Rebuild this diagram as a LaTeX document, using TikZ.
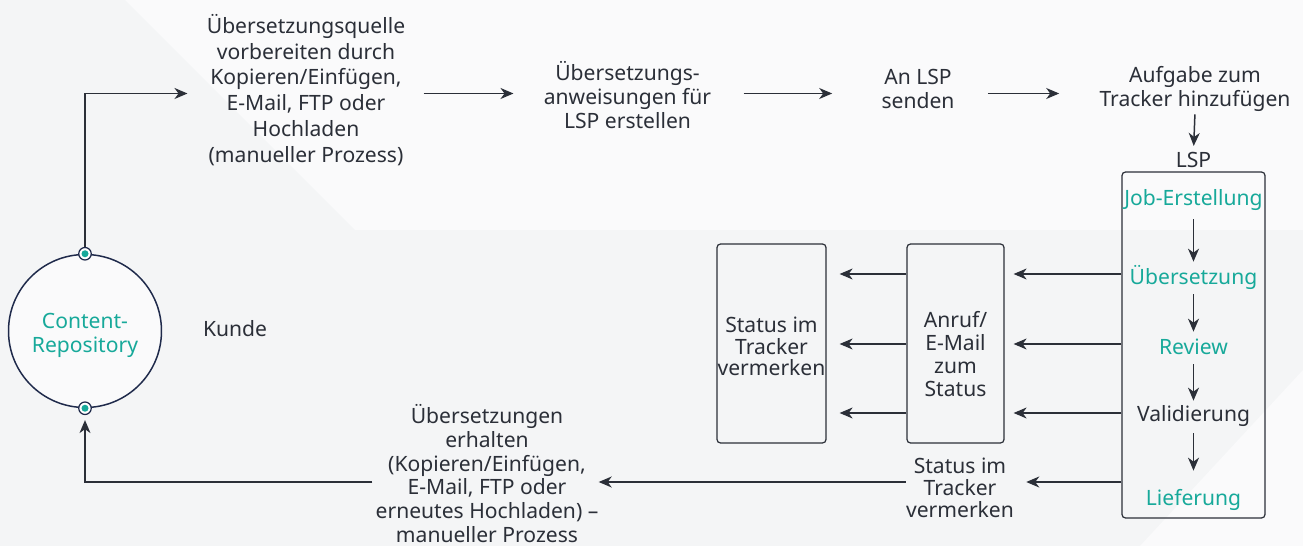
\documentclass[tikz,border=0pt]{standalone}
\usepackage{fontspec}
\setmainfont{Noto Sans}
\usetikzlibrary{arrows.meta, positioning, calc}
\definecolor{inkdark}{HTML}{2B2F38}
\definecolor{repoteal}{HTML}{17A99A}
\definecolor{reponavy}{HTML}{1F2A4B}
\definecolor{bgshade}{HTML}{F4F5F6}
\definecolor{bglight}{HTML}{FAFAFB}

\newcommand{\txt}[1]{\fontsize{12}{#1}\selectfont}

\begin{document}
\begin{tikzpicture}[
    every node/.style={font=\txt{13.6}, text=inkdark, align=center, inner sep=0pt},
    flow/.style={draw=inkdark, line width=0.85pt, -{Stealth[length=2.6mm, width=2.2mm, inset=0.8mm]}},
    statusbox/.style={draw=inkdark, line width=0.7pt, rounded corners=2pt, minimum height=3.98cm},
    lspitem/.style={minimum height=0.6cm},
    pin/.style={circle, draw=reponavy, fill=white, line width=0.7pt, minimum size=0.25cm}
]

% Background
\fill[bgshade] (0,0) rectangle (26.06,-10.92);
\fill[bglight] (2.5,0) -- (26.06,0) -- (26.06,-4.6) -- (7.1,-4.6) -- cycle;
\fill[bglight] (26.06,-7.4) -- (26.06,-10.92) -- (22.8,-10.92) -- cycle;
\useasboundingbox (0,0) rectangle (26.06,-10.92);

% Customer side
\node[circle, draw=reponavy, fill=bglight, line width=0.85pt, minimum size=3.06cm] (repo) at (1.70,-6.62) {};
\node[text=repoteal] (repotext) at (1.70,-6.70) {Content-\\Repository};
\node[pin] (toppin) at (repo.north) {};
\node[pin] (botpin) at (repo.south) {};
\fill[repoteal] (toppin) circle (0.07);
\fill[repoteal] (botpin) circle (0.07);
\node (kunde) at (4.70,-6.58) {Kunde};

% Top row
\coordinate (toprow) at (0,-1.87);
\node[font=\txt{14.7}] (src) at (6.12,-1.80) {Übersetzungsquelle\\vorbereiten durch\\Kopieren/Einfügen,\\E-Mail, FTP oder\\Hochladen\\(manueller Prozess)};
\node (instr) at (12.55,-1.90) {Übersetzungs-\\anweisungen für\\LSP erstellen};
\node (send) at (18.36,-1.78) {An LSP\\senden};
\node (tracker) at (23.90,-1.78) {Aufgabe zum\\Tracker hinzufügen};
\node (lsplabel) at (23.87,-3.20) {LSP};

% LSP steps
\node[draw=inkdark, line width=0.7pt, rounded corners=2pt, minimum width=2.86cm, minimum height=6.92cm] (lspbox) at (23.87,-6.90) {};
\node[lspitem, text=repoteal] (job) at (23.87,-4.00) {Job-Erstellung};
\node[lspitem, text=repoteal] (uebers) at (23.87,-5.54) {Übersetzung};
\node[lspitem, text=repoteal] (review) at (23.87,-6.94) {Review};
\node[lspitem] (valid) at (23.87,-8.32) {Validierung};
\node[lspitem, text=repoteal] (liefer) at (23.87,-10.00) {Lieferung};

% Status boxes
\node[statusbox, minimum width=1.94cm] (callbox) at (19.11,-6.87) {};
\node[font=\txt{13.2}] (calltext) at (19.11,-7.08) {Anruf/\\E-Mail\\zum\\Status};
\node[statusbox, minimum width=2.18cm] (trackbox) at (15.43,-6.87) {};
\node[font=\txt{12.4}] (tracktext) at (15.43,-6.93) {Status im\\Tracker\\vermerken};

% Return path
\coordinate (retrow) at (0,-9.64);
\node[font=\txt{12.5}] (stat2) at (19.20,-9.76) {Status im\\Tracker\\vermerken};
\node (recv) at (9.74,-9.47) {Übersetzungen\\erhalten\\(Kopieren/Einfügen,\\E-Mail, FTP oder\\erneutes Hochladen) –\\manueller Prozess};

% Connecting arrows
\draw[flow] (toppin.north) |- ([xshift=-0.38cm]src.west |- toprow);
\draw[flow, shorten <=3.6mm, shorten >=6mm] (src.east |- toprow) -- (instr.west |- toprow);
\draw[flow, shorten <=6.4mm, shorten >=9.8mm] (instr.east |- toprow) -- (send.west |- toprow);
\draw[flow, shorten <=6.6mm, shorten >=8mm] (send.east |- toprow) -- (tracker.west |- toprow);
\draw[flow, shorten <=0.5mm, shorten >=1.2mm] (tracker.south) -- (lsplabel.north);

\draw[flow, shorten <=0.8mm] (job) -- (uebers);
\draw[flow, shorten <=0.4mm] (uebers) -- (review);
\draw[flow, shorten <=0.4mm] (review) -- (valid);
\draw[flow, shorten <=0.4mm, shorten >=2.8mm] (valid) -- (liefer);

\foreach \row in {uebers, review, valid} {
    \draw[flow, shorten >=1.8mm] ([yshift=0.06cm]\row -| lspbox.west) -- ([yshift=0.06cm]\row -| callbox.east);
    \draw[flow, shorten >=2.6mm] ([yshift=0.06cm]\row -| callbox.west) -- ([yshift=0.06cm]\row -| trackbox.east);
}

\draw[flow, shorten >=2.4mm] (lspbox.west |- retrow) -- (stat2.east |- retrow);
\draw[flow] (stat2.west |- retrow) -- (recv.east |- retrow);
\draw[flow, shorten >=1mm] ([xshift=-0.06cm]recv.west |- retrow) -| (botpin.south);

\end{tikzpicture}
\end{document}
